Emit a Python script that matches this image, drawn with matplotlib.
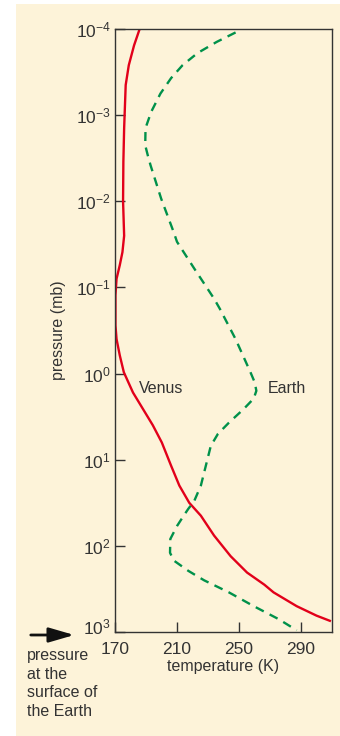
import matplotlib

matplotlib.use("Agg")
import matplotlib.pyplot as plt
import matplotlib.transforms as mtransforms
import numpy as np
from matplotlib.patches import Rectangle, FancyArrowPatch

# Venus profile: temperature (K) and log10 of pressure (mb)
venus_temp = [185.9, 182.3, 178.9, 176.9, 175.9, 175.4, 175.2, 175.9, 174.8, 173.1,
              171.0, 170.3, 170.3, 170.3, 171.0, 173.1, 175.7, 181.6, 188.0, 194.4,
              200.2, 206.2, 211.5, 217.9, 225.4, 233.9, 244.6, 255.2, 266.3, 272.3,
              287.2, 300.0, 308.6]
venus_logp = [-4.0, -3.81, -3.58, -3.35, -2.85, -2.46, -2.0, -1.60, -1.41, -1.26,
              -1.10, -0.91, -0.79, -0.56, -0.40, -0.21, -0.015, 0.22, 0.41, 0.60,
              0.80, 1.07, 1.30, 1.50, 1.65, 1.88, 2.12, 2.31, 2.45, 2.54,
              2.70, 2.81, 2.87]

# Earth profile
earth_temp = [247.8, 235.6, 223.2, 213.6, 206.2, 199.3, 193.4, 189.7, 189.5, 191.2,
              192.9, 199.8, 207.9, 210.0, 221.1, 233.9, 237.7, 247.8, 257.4, 260.1,
              261.2, 259.5, 253.1, 243.5, 236.4, 231.8, 228.6, 225.4, 221.1, 217.3,
              214.3, 210.0, 205.7, 205.5, 207.9, 217.3, 227.5, 243.5, 259.5, 275.5,
              287.2]
earth_logp = [-3.96, -3.85, -3.72, -3.58, -3.43, -3.25, -3.04, -2.85, -2.65, -2.53,
              -2.42, -2.03, -1.64, -1.53, -1.22, -0.87, -0.75, -0.40, -0.015, 0.10,
              0.20, 0.29, 0.41, 0.57, 0.70, 0.84, 1.07, 1.30, 1.48, 1.57,
              1.65, 1.77, 1.92, 2.08, 2.17, 2.29, 2.40, 2.54, 2.70, 2.85,
              2.98]

x_ticks = [170, 210, 250, 290]
y_ticks = [1e-4, 1e-3, 1e-2, 1e-1, 1e0, 1e1, 1e2, 1e3]

CREAM = "#fdf3d9"
INK = "#333333"
RED = "#e2001a"
GREEN = "#00914a"

plt.rcParams["font.family"] = ["Liberation Sans", "DejaVu Sans"]
plt.rcParams["mathtext.default"] = "regular"
plt.rcParams["font.size"] = 11.5

fig = plt.figure(figsize=(3.4, 7.36), dpi=100)
fig.patch.set_facecolor("white")
# cream panel behind everything, white strip on the left and top
fig.add_artist(Rectangle((16 / 340, 0), 324 / 340, 732 / 736, transform=fig.transFigure,
                         facecolor=CREAM, edgecolor="none", zorder=0))

ax = fig.add_axes([115 / 340, 1 - 632 / 736, 217 / 340, 603 / 736])
ax.set_facecolor(CREAM)

ax.plot(venus_temp, 10.0 ** np.array(venus_logp), color=RED, linewidth=1.7,
        solid_joinstyle="round")
ax.plot(earth_temp, 10.0 ** np.array(earth_logp), color=GREEN, linewidth=1.7,
        linestyle=(0, (3.8, 2.8)))

ax.set_yscale("log")
ax.set_ylim(1e3, 1e-4)
ax.set_xlim(170, 310)
ax.set_xticks(x_ticks)
ax.set_yticks(y_ticks)
ax.minorticks_off()

ax.tick_params(axis="both", direction="in", length=7, width=1, color=INK,
               labelcolor=INK, labelsize=12.5)
ax.tick_params(axis="y", pad=3)
ax.tick_params(axis="x", pad=7)
for sp in ax.spines.values():
    sp.set_color(INK)
    sp.set_linewidth(1)

# lift the bottom y label a little so it clears "170"
last = ax.get_yticklabels()[-1]
last.set_transform(last.get_transform() +
                   mtransforms.ScaledTranslation(0, 4 / 72, fig.dpi_scale_trans))

ax.set_xlabel("temperature (K)", color=INK, labelpad=2)
ax.set_ylabel("pressure (mb)", color=INK, labelpad=7)

ax.text(185.5, 10**0.17, "Venus", color=INK, ha="left", va="center")
ax.text(268.5, 10**0.17, "Earth", color=INK, ha="left", va="center")

# arrow + note for surface pressure on Earth
fig.add_artist(FancyArrowPatch(
    (28 / 340, 1 - 635 / 736), (77 / 340, 1 - 635 / 736), transform=fig.transFigure,
    arrowstyle="-|>,head_length=1.1,head_width=0.32", mutation_scale=14,
    color="#111111", linewidth=2))
fig.text(27 / 340, 1 - 648 / 736, "pressure\nat the\nsurface of\nthe Earth",
         color=INK, ha="left", va="top", linespacing=1.3)

fig.savefig("out.png", dpi=100, facecolor=fig.get_facecolor())
